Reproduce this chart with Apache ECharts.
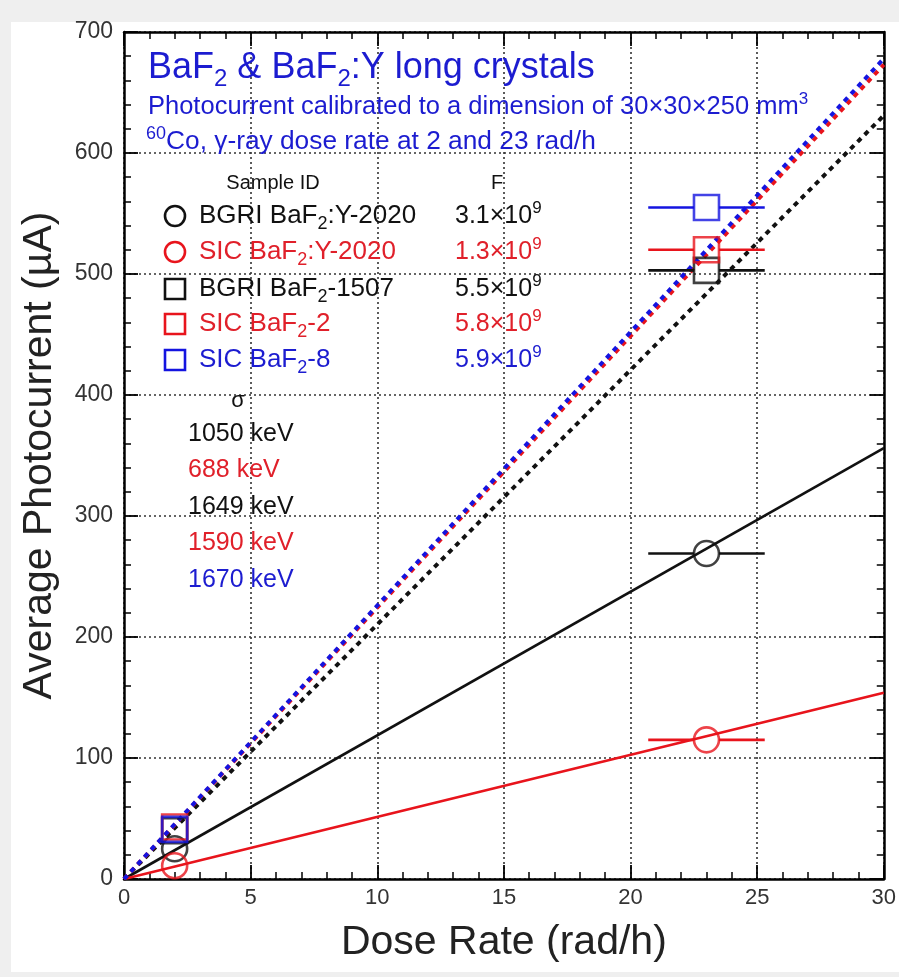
<!DOCTYPE html>
<html><head><meta charset="utf-8">
<script src="https://cdn.jsdelivr.net/npm/echarts@6/dist/echarts.min.js"></script>
<style>html,body{margin:0;padding:0;background:#efefef;}#c{width:899px;height:977px;}</style>
</head><body><div id="c"></div>
<script>
// ---- data ----
const doseRates = [2, 23];
const doseErrLow = [1.8, 20.7];
const doseErrHigh = [2.2, 25.3];
const bgriY2020 = [25, 269];
const sicY2020 = [11, 115];
const bgri1507 = [40, 503];
const sic2 = [43, 520];
const sic8 = [41, 555];
const fitX = [0, 30];
const fitBgriY2020 = [0, 356];
const fitSicY2020 = [0, 154];
const fitBgri1507 = [0, 631];
const fitSic2 = [0, 673];
const fitSic8 = [0, 678];
const sampleIds = ['BGRI BaF{s|2}:Y-2020', 'SIC BaF{s|2}:Y-2020', 'BGRI BaF{s|2}-1507', 'SIC BaF{s|2}-2', 'SIC BaF{s|2}-8'];
const fMantissa = ['3.1', '1.3', '5.5', '5.8', '5.9'];
const fExponent = ['9', '9', '9', '9', '9'];
const sigmaKeV = ['1050', '688', '1649', '1590', '1670'];
const xRange = [0, 30], xStep = 5;
const yRange = [0, 700], yStep = 100;

const BLACK = '#111111', RED = '#e8141c', BLUE = '#1414e0';
const TBLUE = '#1c1cd0', TRED = '#e0202a';
const FONT = 'Liberation Sans, Arial, sans-serif';

const samples = [
  {vals: bgriY2020, fit: fitBgriY2020, color: BLACK, tcolor: BLACK, symbol: 'circle', dashed: false},
  {vals: sicY2020, fit: fitSicY2020, color: RED, tcolor: TRED, symbol: 'circle', dashed: false},
  {vals: bgri1507, fit: fitBgri1507, color: BLACK, tcolor: BLACK, symbol: 'rect', dashed: true},
  {vals: sic2, fit: fitSic2, color: RED, tcolor: TRED, symbol: 'rect', dashed: true},
  {vals: sic8, fit: fitSic8, color: BLUE, tcolor: TBLUE, symbol: 'rect', dashed: true}
];
const MS = 25; // marker size

const series = [];
samples.forEach((s, k) => {
  series.push({
    type: 'line', silent: true, symbol: 'none', z: 2 + k * 0.1,
    data: fitX.map((x, i) => [x, s.fit[i]]),
    lineStyle: {color: s.color, width: s.dashed ? 4 : 2.6, type: s.dashed ? [5, 5] : 'solid'}
  });
});
samples.forEach((s, k) => {
  series.push({
    type: 'custom', silent: true, z: 4 + k * 0.1,
    data: doseRates.map((x, i) => [doseErrLow[i], doseErrHigh[i], s.vals[i], x]),
    encode: {x: [0, 1], y: 2},
    renderItem: (params, api) => {
      const y = api.value(2);
      const pl = api.coord([api.value(0), y]);
      const ph = api.coord([api.value(1), y]);
      const pc = api.coord([api.value(3), y]);
      const h = MS / 2;
      const st = {stroke: s.color, lineWidth: 2.6};
      const ch = [];
      if (pc[0] - h > pl[0]) ch.push({type: 'line', shape: {x1: pl[0], y1: pl[1], x2: pc[0] - h, y2: pc[1]}, style: st});
      if (ph[0] > pc[0] + h) ch.push({type: 'line', shape: {x1: pc[0] + h, y1: pc[1], x2: ph[0], y2: ph[1]}, style: st});
      return {type: 'group', children: ch};
    }
  });
  series.push({
    type: 'scatter', silent: true, z: 5 + k * 0.1,
    symbol: s.symbol, symbolSize: MS,
    data: doseRates.map((x, i) => [x, s.vals[i]]),
    itemStyle: {color: 'rgba(0,0,0,0)', borderColor: s.color, borderWidth: 2.6}
  });
});

function txt(x, y, text, rich, extra) {
  return {type: 'text', x: x, y: y, z: 50,
    style: Object.assign({text: text, rich: rich, textVerticalAlign: 'middle'}, extra || {})};
}
function richSet(size, color) {
  return {
    n: {fontSize: size, fontFamily: FONT, fill: color},
    s: {fontSize: Math.round(size * 0.68), fontFamily: FONT, fill: color, padding: [Math.round(size * 0.6), 0, 0, 0]},
    u: {fontSize: Math.round(size * 0.68), fontFamily: FONT, fill: color, padding: [0, 0, Math.round(size * 0.6), 0]}
  };
}
function wrapN(str) { // wrap plain parts with {n|...}
  return str.split(/(\{[su]\|[^}]*\})/).filter(p => p.length).map(p => p.startsWith('{') ? p : '{n|' + p + '}').join('');
}

const graphics = [
  {type: 'rect', shape: {x: 11, y: 22, width: 888, height: 950}, style: {fill: '#ffffff'}, z: -10, silent: true},
  txt(148, 68, wrapN('BaF{s|2} & BaF{s|2}:Y long crystals'), richSet(36, TBLUE)),
  txt(148, 107, wrapN('Photocurrent calibrated to a dimension of 30×30×250 mm{u|3}'), richSet(25.5, TBLUE)),
  txt(146, 142, wrapN('{u|60}Co, γ-ray dose rate at 2 and 23 rad/h'), richSet(26.3, TBLUE)),
  txt(273, 183, wrapN('Sample ID'), richSet(20, BLACK), {textAlign: 'center'}),
  txt(497, 183, wrapN('F'), richSet(20, BLACK), {textAlign: 'center'}),
  txt(238, 401, wrapN('σ'), richSet(22, BLACK), {textAlign: 'center'})
];
const rowY = [216, 252, 289, 324, 360];
samples.forEach((s, k) => {
  const y = rowY[k];
  if (s.symbol === 'circle') {
    graphics.push({type: 'circle', z: 50, shape: {cx: 175, cy: y, r: 10}, style: {fill: 'none', stroke: s.color, lineWidth: 2.6}});
  } else {
    graphics.push({type: 'rect', z: 50, shape: {x: 165, y: y - 10, width: 20, height: 20}, style: {fill: 'none', stroke: s.color, lineWidth: 2.6}});
  }
  graphics.push(txt(199, y, wrapN(sampleIds[k]), richSet(26, s.tcolor)));
  graphics.push(txt(455, y, wrapN(fMantissa[k] + '×10{u|' + fExponent[k] + '}'), richSet(25, s.tcolor)));
});
const sigY = [434, 470, 507, 543, 580];
sigmaKeV.forEach((v, k) => {
  graphics.push(txt(188, sigY[k], wrapN(v + ' keV'), richSet(25, samples[k].tcolor)));
});

const axisCommon = {
  type: 'value',
  axisLine: {show: true, onZero: false, lineStyle: {color: '#000', width: 2.5}},
  axisTick: {show: true, inside: true, length: 14, lineStyle: {color: '#000', width: 1.8}},
  minorTick: {show: true, splitNumber: 5, length: 7, lineStyle: {color: '#000', width: 1.5}},
  minorSplitLine: {show: false}
};
const option = {
  backgroundColor: 'transparent',
  animation: false,
  grid: {left: 124, top: 32, width: 763, height: 847},
  xAxis: [
    Object.assign({}, axisCommon, {
      position: 'bottom', min: xRange[0], max: xRange[1], interval: xStep,
      axisLabel: {color: '#333', fontSize: 22, fontFamily: FONT, margin: 8},
      splitLine: {show: true, lineStyle: {color: '#333', width: 1.6, type: [2, 3]}},
      name: 'Dose Rate (rad/h)', nameLocation: 'middle', nameGap: 43,
      nameTextStyle: {color: '#222', fontSize: 41, fontFamily: FONT}
    }),
    Object.assign({}, axisCommon, {
      position: 'top', min: xRange[0], max: xRange[1], interval: xStep,
      axisLabel: {show: false}, splitLine: {show: false}
    })
  ],
  yAxis: [
    Object.assign({}, axisCommon, {
      position: 'left', min: yRange[0], max: yRange[1], interval: yStep,
      axisLabel: {color: '#333', fontSize: 23, fontFamily: FONT, margin: 11},
      splitLine: {show: true, lineStyle: {color: '#333', width: 1.6, type: [2, 3]}},
      name: 'Average Photocurrent (µA)', nameLocation: 'middle', nameGap: 64,
      nameTextStyle: {color: '#222', fontSize: 41, fontFamily: FONT}
    }),
    Object.assign({}, axisCommon, {
      position: 'right', min: yRange[0], max: yRange[1], interval: yStep,
      axisLabel: {show: false}, splitLine: {show: false}
    })
  ],
  graphic: graphics,
  series: series
};
const chart = echarts.init(document.getElementById('c'), null, {renderer: 'canvas'});
chart.setOption(option);
</script>
</body></html>
